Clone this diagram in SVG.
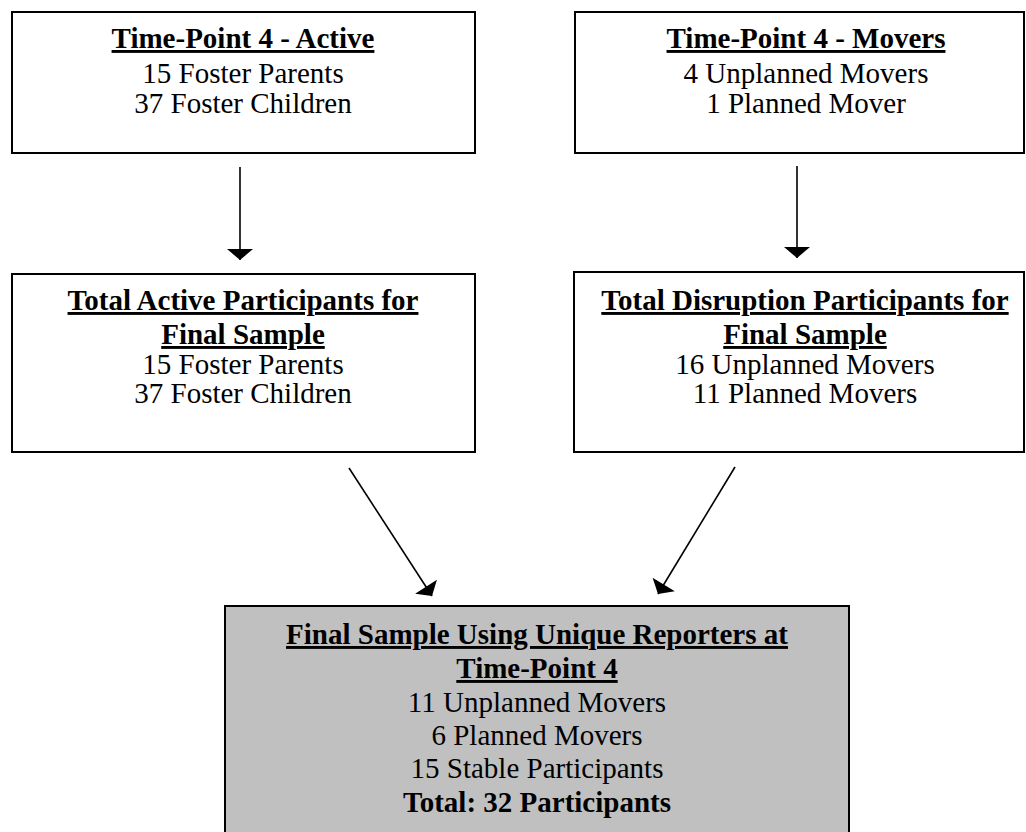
<svg xmlns="http://www.w3.org/2000/svg" width="1026" height="832" viewBox="0 0 1026 832">
  <style>
    .box { fill: #ffffff; stroke: #000000; stroke-width: 2; }
    .final { fill: #c0c0c0; stroke: #000000; stroke-width: 2; }
    text { font-family: "Liberation Serif", "Times New Roman", serif; font-size: 29px; fill: #000000; text-anchor: middle; }
    .t { font-weight: bold; text-decoration: underline; }
    .b { font-weight: bold; }
    .conn { stroke: #000000; stroke-width: 1.6; fill: none; marker-end: url(#head); }
  </style>
  <defs>
    <marker id="head" markerUnits="userSpaceOnUse" viewBox="-12 -14 13 28" markerWidth="13" markerHeight="28" refX="0" refY="0" orient="auto">
      <path d="M0,0 L-11,-13 L-11,13 Z" fill="#000000"/>
    </marker>
  </defs>
  <rect width="1026" height="832" fill="#ffffff"/>

  <g id="tp4-active">
    <rect class="box" x="12" y="12" width="463" height="141"/>
    <text x="243" y="48" class="t">Time-Point 4 - Active</text>
    <text x="243" y="83">15 Foster Parents</text>
    <text x="243" y="113">37 Foster Children</text>
  </g>

  <g id="tp4-movers">
    <rect class="box" x="575" y="12" width="449" height="141"/>
    <text x="806" y="48" class="t">Time-Point 4 - Movers</text>
    <text x="806" y="83">4 Unplanned Movers</text>
    <text x="806" y="113">1 Planned Mover</text>
  </g>

  <g id="total-active">
    <rect class="box" x="12" y="274" width="463" height="178"/>
    <text x="243" y="310" class="t">Total Active Participants for</text>
    <text x="243" y="344" class="t">Final Sample</text>
    <text x="243" y="374">15 Foster Parents</text>
    <text x="243" y="403">37 Foster Children</text>
  </g>

  <g id="total-disruption">
    <rect class="box" x="574" y="272" width="450" height="180"/>
    <text x="805" y="310" class="t">Total Disruption Participants for</text>
    <text x="805" y="344" class="t">Final Sample</text>
    <text x="805" y="374">16 Unplanned Movers</text>
    <text x="805" y="403">11 Planned Movers</text>
  </g>

  <g id="final-sample">
    <rect class="final" x="225" y="606" width="624" height="240"/>
    <text x="537" y="644" class="t">Final Sample Using Unique Reporters at</text>
    <text x="537" y="678" class="t">Time-Point 4</text>
    <text x="537" y="712">11 Unplanned Movers</text>
    <text x="537" y="745">6 Planned Movers</text>
    <text x="537" y="778">15 Stable Participants</text>
    <text x="537" y="812" class="b">Total: 32 Participants</text>
  </g>

  <g id="connectors">
    <line class="conn" x1="240" y1="167" x2="240" y2="260"/>
    <line class="conn" x1="797" y1="166" x2="797" y2="258"/>
    <line class="conn" x1="349" y1="468" x2="432" y2="596"/>
    <line class="conn" x1="735" y1="467" x2="658" y2="594"/>
  </g>
</svg>
